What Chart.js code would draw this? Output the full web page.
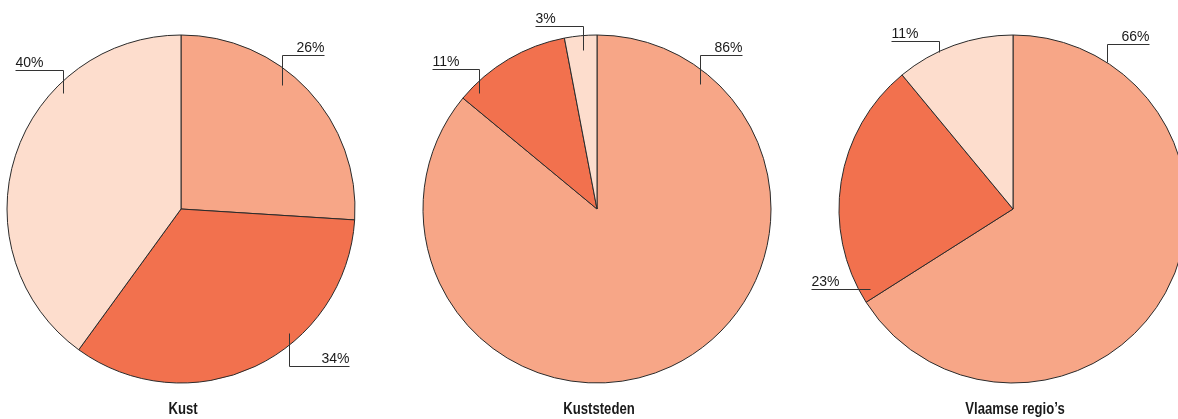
<!DOCTYPE html>
<html>
<head>
<meta charset="utf-8">
<script src="https://cdn.jsdelivr.net/npm/chart.js@4.4.1/dist/chart.umd.min.js"></script>
<style>
  html, body { margin: 0; padding: 0; background: #fff; }
  body { width: 1178px; height: 419px; overflow: hidden; position: relative; }
  .pie-box { position: absolute; top: 0; width: 416px; height: 419px; }
</style>
</head>
<body>
<div class="pie-box" style="left:-27px"><canvas id="pieKust" width="416" height="419"></canvas></div>
<div class="pie-box" style="left:389px"><canvas id="pieKuststeden" width="416" height="419"></canvas></div>
<div class="pie-box" style="left:805px"><canvas id="pieVlaams" width="416" height="419"></canvas></div>

<script>
"use strict";

// data
var categories = ['Categorie 1', 'Categorie 2', 'Categorie 3'];
var kustValues = [26, 34, 40];
var kuststedenValues = [86, 11, 3];
var vlaamseValues = [66, 23, 11];
var chartTitles = ['Kust', 'Kuststeden', 'Vlaamse regio\u2019s'];

var pieColors = [
  '#F7A687',
  '#F2714E',
  '#FDDDCD'
];

// leader lines: t = where along the slice, depth = fraction of radius,
// rise = vertical part (px, - is up), run = horizontal part (px, - is left)
var kustLabels = [
  { t: 0.42, depth: 0.92, rise: -30, run: 42 },
  { t: 0.37, depth: 0.945, rise: 33, run: 60 },
  { t: 0.684, depth: 0.95, rise: -23, run: -48 }
];
var kuststedenLabels = [
  { t: 0.128, depth: 0.93, rise: -29, run: 42 },
  { t: 0.124, depth: 0.95, rise: -24, run: -47 },
  { t: 0.54, depth: 0.92, rise: -24, run: -48 }
];
var vlaamseLabels = [
  { t: 0.137, depth: 1.0, rise: -18, run: 42 },
  { t: 0.039, depth: 0.94, rise: 0, run: -59 },
  { t: 0.364, depth: 1.0, rise: -11, run: -48 }
];

var leaderLabels = {
  id: 'leaderLabels',
  afterDatasetsDraw: function (chart, args, opts) {
    var ctx = chart.ctx;
    var meta = chart.getDatasetMeta(0);
    var values = chart.data.datasets[0].data;
    ctx.save();
    ctx.strokeStyle = '#333333';
    ctx.lineWidth = 1;
    ctx.fillStyle = '#1a1a1a';
    ctx.font = '14px "Liberation Sans", Arial, sans-serif';
    ctx.textBaseline = 'alphabetic';
    meta.data.forEach(function (arc, i) {
      var lab = opts.layout[i];
      if (!lab) return;
      var p = arc.getProps(['x', 'y', 'startAngle', 'endAngle', 'outerRadius'], true);
      var a = p.startAngle + lab.t * (p.endAngle - p.startAngle);
      var px = Math.round(p.x + Math.cos(a) * p.outerRadius * lab.depth) + 0.5;
      var py = Math.round(p.y + Math.sin(a) * p.outerRadius * lab.depth) + 0.5;
      var ly = py + lab.rise;
      ctx.beginPath();
      ctx.moveTo(px, py);
      ctx.lineTo(px, ly);
      ctx.lineTo(px + lab.run, ly);
      ctx.stroke();
      ctx.textAlign = lab.run > 0 ? 'right' : 'left';
      ctx.fillText(values[i] + '%', px + lab.run, ly - 3.5);
    });

    // title under the pie, narrow bold (no condensed font installed, so squeeze it)
    var area = chart.chartArea;
    ctx.save();
    ctx.translate((area.left + area.right) / 2 + 2, 409.5);
    ctx.scale(0.82, 1);
    ctx.font = 'bold 16px "Liberation Sans", Arial, sans-serif';
    ctx.textAlign = 'center';
    ctx.textBaseline = 'middle';
    ctx.fillStyle = '#1a1a1a';
    ctx.fillText(opts.title, 0, 0);
    ctx.restore();

    ctx.restore();
  }
};

function makePie(canvasId, values, title, labelLayout) {
  var el = document.getElementById(canvasId);
  return new Chart(el, {
    type: 'pie',
    data: {
      labels: categories,
      datasets: [{
        data: values,
        backgroundColor: pieColors,
        borderColor: '#2a2a2a',
        borderWidth: 1,
        radius: 174
      }]
    },
    options: {
      responsive: false,
      animation: false,
      events: [],
      layout: {
        padding: { top: 38, bottom: 39, left: 0, right: 0 }
      },
      plugins: {
        legend: { display: false },
        tooltip: { enabled: false },
        title: { display: false },
        leaderLabels: { layout: labelLayout, title: title }
      }
    },
    plugins: [leaderLabels]
  });
}

makePie('pieKust', kustValues, chartTitles[0], kustLabels);
makePie('pieKuststeden', kuststedenValues, chartTitles[1], kuststedenLabels);
makePie('pieVlaams', vlaamseValues, chartTitles[2], vlaamseLabels);
</script>
</body>
</html>
